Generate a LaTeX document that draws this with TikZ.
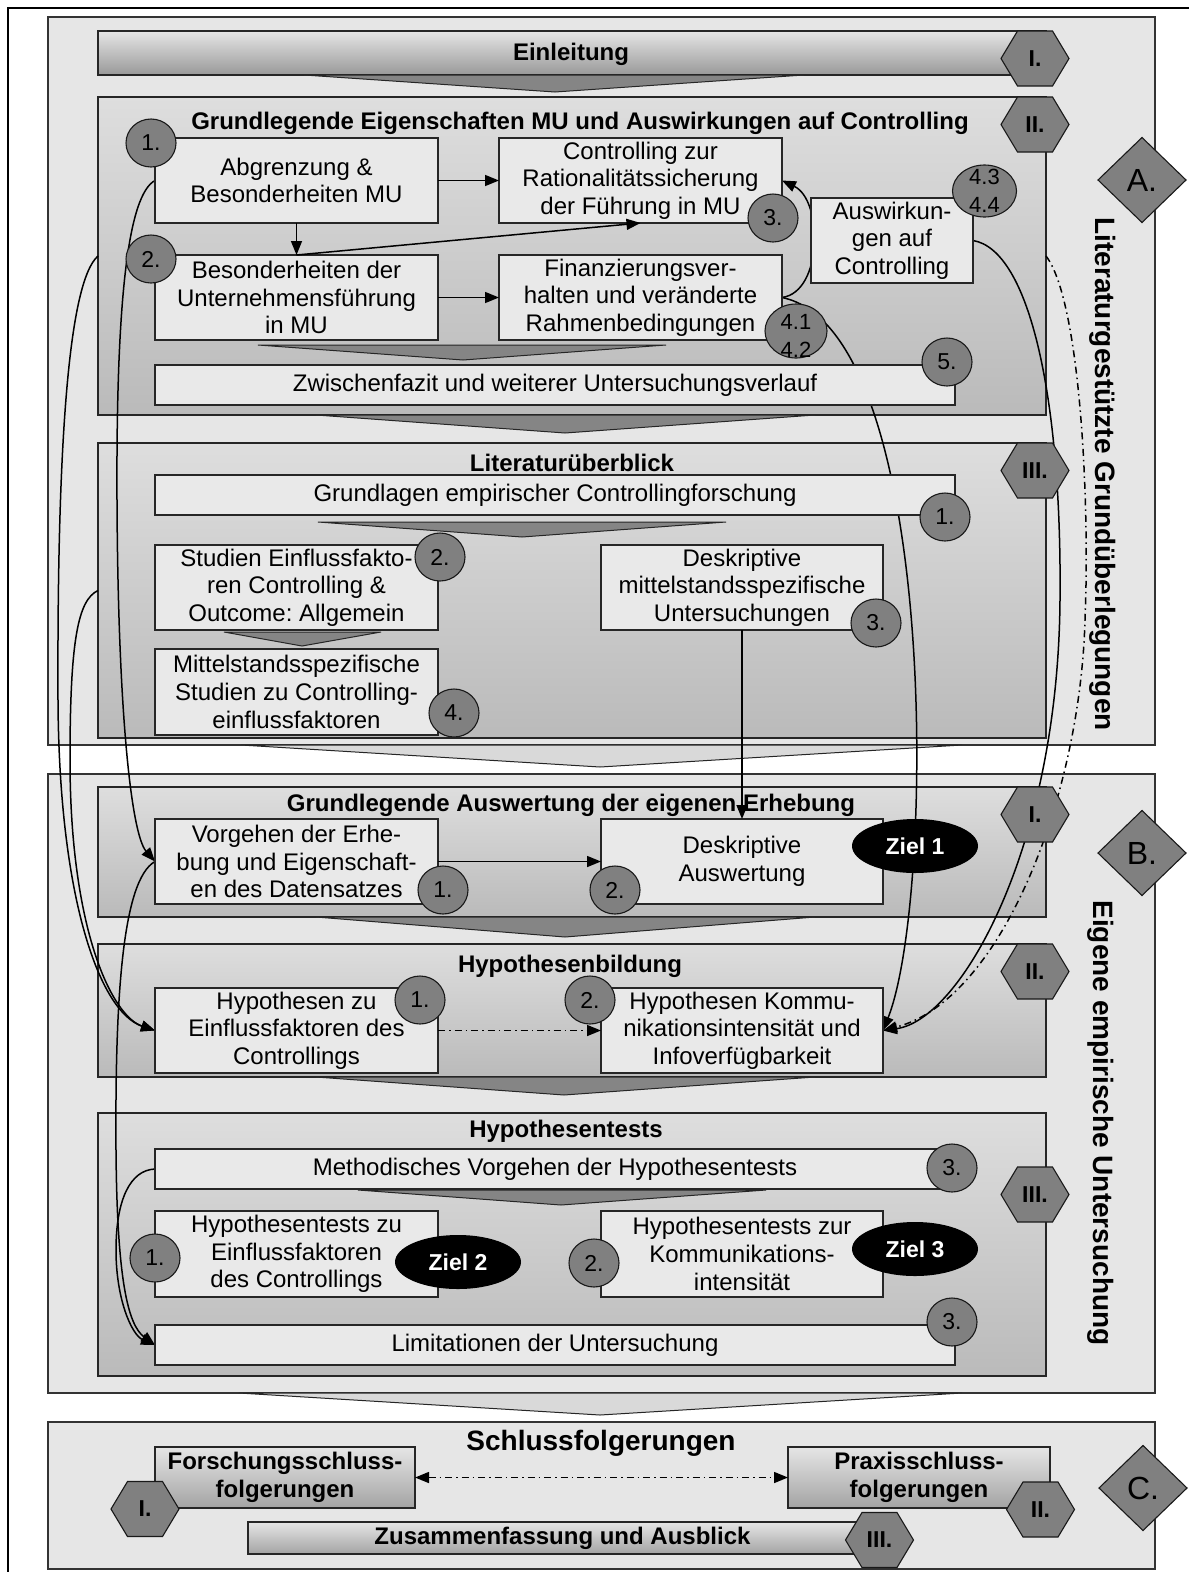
\documentclass[tikz,border=0pt]{standalone}
\usepackage{fontspec}
\setmainfont{Liberation Sans}
\usetikzlibrary{arrows.meta,shapes.geometric}
\pgfdeclarelayer{back}
\pgfdeclarelayer{wires}
\pgfsetlayers{back,wires,main}
\definecolor{secgray}{HTML}{E6E6E6}
\definecolor{boxgray}{HTML}{E9E9E9}
\definecolor{markgray}{HTML}{808080}
\frenchspacing

% hexagonal chapter marker: name, x, y, label
\newcommand\hexat[4]{%
  \filldraw[hexshape] ({#2-34},{#3}) -- ({#2-17.5},{#3-27.5}) -- ({#2+17.5},{#3-27.5})
    -- ({#2+34},{#3}) -- ({#2+17.5},{#3+27.5}) -- ({#2-17.5},{#3+27.5}) -- cycle;
  \node[hextext] (#1) at (#2,#3) {#4};}

\begin{document}
\begin{tikzpicture}[x=1pt,y=-1pt,
  >={Triangle[length=14pt,width=11pt]},
  every node/.style={inner sep=0pt,outer sep=0pt},
  rm/.style={font=\fontsize{24}{27.6}\selectfont},
  bf/.style={font=\fontsize{24}{27.6}\selectfont\bfseries},
  sectionbg/.style={fill=secgray,draw=black!80,line width=1.2pt,anchor=north west,minimum width=1107pt},
  panel/.style={top color=black!13,bottom color=black!27,draw=black!85,line width=1.2pt,anchor=north west,minimum width=948pt},
  box/.style={rm,align=center,fill=boxgray,draw=black!85,line width=1.3pt,anchor=north west,minimum width=283pt,minimum height=85pt},
  widebox/.style={box,minimum width=800pt,minimum height=40pt},
  gbox/.style={bf,align=center,top color=black!10,bottom color=black!36,draw=black!85,line width=1.3pt,anchor=north west},
  num/.style={ellipse,fill=markgray,draw=black!90,line width=1.1pt,minimum width=50pt,minimum height=48pt,font=\fontsize{23}{25}\selectfont},
  numtext/.style={font=\fontsize{22}{28}\selectfont,align=center},
  goal/.style={ellipse,fill=black,text=white,minimum width=126pt,minimum height=54pt,font=\fontsize{23}{25}\selectfont\bfseries},
  part/.style={diamond,fill=markgray,draw=black!90,line width=1.1pt,minimum width=88pt,minimum height=85pt,font=\fontsize{32}{36}\selectfont},
  hexshape/.style={fill=markgray,draw=black!90,line width=1.1pt},
  hextext/.style={font=\fontsize{23}{26}\selectfont\bfseries},
  chev/.style={fill=black!48,draw=black!85,line width=1pt},
  lchev/.style={fill=black!15,draw=black!85,line width=1pt},
  link/.style={line width=1.5pt,->},
  dlink/.style={line width=1.5pt,dash pattern=on 7pt off 4pt on 1.5pt off 4pt},
  vlabel/.style={font=\fontsize{28}{32}\selectfont\bfseries,rotate=-90}]

\useasboundingbox (0,0) rectangle (1189,1572);

\begin{pgfonlayer}{back}
  \fill[white] (0,0) rectangle (1189,1572);
  \draw[line width=2pt] (7.5,1590) -- (7.5,7.5) -- (1200,7.5);
  % the three parts
  \node[sectionbg,minimum height=728pt] (secA) at (48,17) {};
  \node[sectionbg,minimum height=619pt] (secB) at (48,774) {};
  \node[sectionbg,minimum height=147pt] (secC) at (48,1422) {};
  \filldraw[lchev] (241,745) -- (962,745) -- (600,767) -- cycle;
  \filldraw[lchev] (239,1393) -- (962,1393) -- (600,1415) -- cycle;
  % chapter panels
  \node[anchor=north west,minimum width=948pt,minimum height=44pt,top color=black!10,bottom color=black!40,draw=black!85,line width=1.2pt] (einl) at (98,31) {};
  \node[panel,minimum height=318pt] (p2) at (98,97) {};
  \node[panel,minimum height=295pt] (p3) at (98,443) {};
  \node[panel,minimum height=130pt] (b1) at (98,787) {};
  \node[panel,minimum height=133pt] (b2) at (98,944) {};
  \node[panel,minimum height=263pt] (b3) at (98,1113) {};
  % flow chevrons
  \filldraw[chev] (304,75) -- (804,75) -- (555,92) -- cycle;
  \filldraw[chev] (258,345) -- (666,345) -- (463,360) -- cycle;
  \filldraw[chev] (316,415) -- (815,415) -- (565,433) -- cycle;
  \filldraw[chev] (318,522) -- (726,522) -- (522,537) -- cycle;
  \filldraw[chev] (224,632) -- (381,632) -- (302,646) -- cycle;
  \filldraw[chev] (316,917) -- (815,917) -- (565,937) -- cycle;
  \filldraw[chev] (316,1077) -- (815,1077) -- (564,1095) -- cycle;
  \filldraw[chev] (358,1190) -- (766,1190) -- (561,1205) -- cycle;
\end{pgfonlayer}

% content boxes
\node[box] (abgr) at (155,138) {Abgrenzung \&\\Besonderheiten MU};
\node[box] (ctrl) at (499,138) {Controlling zur\\Rationalitätssicherung\\der Führung in MU};
\node[box] (bes) at (155,255) {Besonderheiten der\\Unternehmensführung\\in MU};
\node[box] (fin) at (499,255) {Finanzierungsver-\\halten und veränderte\\Rahmenbedingungen};
\node[box,minimum width=162pt] (ausw) at (811,198) {Auswirkun-\\gen auf\\Controlling};
\node[widebox] (zwi) at (155,365) {Zwischenfazit und weiterer Untersuchungsverlauf};
\node[widebox] (grl) at (155,475) {Grundlagen empirischer Controllingforschung};
\node[box] (stud) at (155,545) {Studien Einflussfakto-\\ren Controlling \&\\Outcome: Allgemein};
\node[box,minimum height=86pt] (mitt) at (155,649) {Mittelstandsspezifische\\Studien zu Controlling-\\einflussfaktoren};
\node[box,minimum width=282pt] (desk) at (601,545) {Deskriptive\\mittelstandsspezifische\\Untersuchungen};
\node[box] (vorg) at (155,819) {Vorgehen der Erhe-\\bung und Eigenschaft-\\en des Datensatzes};
\node[box,minimum width=282pt] (dausw) at (601,819) {Deskriptive\\Auswertung};
\node[box] (hypz) at (155,988) {Hypothesen zu\\Einflussfaktoren des\\Controllings};
\node[box,minimum width=282pt] (hypk) at (601,988) {Hypothesen Kommu-\\nikationsintensität und\\Infoverfügbarkeit};
\node[widebox] (meth) at (155,1149) {Methodisches Vorgehen der Hypothesentests};
\node[box,minimum height=86pt] (htz) at (155,1211) {Hypothesentests zu\\Einflussfaktoren\\des Controllings};
\node[box,minimum width=282pt,minimum height=86pt] (htk) at (601,1211) {Hypothesentests zur\\Kommunikations-\\intensität};
\node[widebox] (lim) at (155,1325) {Limitationen der Untersuchung};
\node[gbox,minimum width=260pt,minimum height=61pt] (forsch) at (155,1447) {Forschungsschluss-\\folgerungen};
\node[gbox,minimum width=262pt,minimum height=61pt] (praxis) at (788,1447) {Praxisschluss-\\folgerungen};
\node[gbox,minimum width=609pt,minimum height=32pt] (zus) at (248,1522) {\hspace*{20pt}Zusammenfassung und Ausblick};

% long connectors run beneath the boxes
\begin{pgfonlayer}{wires}
  \draw[link] (abgr.west) .. controls (128,195) and (116,300) .. (117,500)
    .. controls (118,720) and (132,835) .. (vorg.west);
  \draw[link] (p2.west) .. controls (68,282) and (57,450) .. (58,700)
    .. controls (59,900) and (100,1012) .. (hypz.west);
  \draw[link] (p3.west) .. controls (78,600) and (70,640) .. (70,760)
    .. controls (70,930) and (112,1016) .. (hypz.west);
  \draw[link] (vorg.west) .. controls (122,880) and (115,1000) .. (116,1150)
    .. controls (117,1280) and (128,1325) .. (lim.west);
  \draw[link] (meth.west) .. controls (130,1170) and (116,1200) .. (116,1250)
    .. controls (116,1300) and (132,1335) .. (lim.west);
  \draw[link] (fin.east) .. controls (823,292) and (823,200) .. (ctrl.east);
  \draw[link] (fin.east) .. controls (940,330) and (935,900) .. (hypk.east);
  \draw[link] (ausw.east) .. controls (1030,250) and (1062,400) .. (1060,600)
    .. controls (1058,850) and (960,1020) .. (hypk.east);
  \draw[dlink,->] (p2.east) .. controls (1080,300) and (1090,500) .. (1085,620)
    .. controls (1080,800) and (1000,1000) .. (hypk.east);
\end{pgfonlayer}

% direct connectors
\draw[link] (abgr.east) -- (ctrl.west);
\draw[link] (abgr.south) -- (bes.north);
\draw[link] (bes.north) -- (ctrl.south);
\draw[link] (bes.east) -- (fin.west);
\draw[link] (desk.south) -- (dausw.north);
\draw[link] (vorg.east) -- (dausw.west);
\draw[dlink,->] (hypz.east) -- (hypk.west);
\draw[dlink,<->] (forsch.east) -- (praxis.west);

% headings
\node[bf] (tEinl) at (571,54) {Einleitung};
\node[bf] (tP2) at (580,123) {Grundlegende Eigenschaften MU und Auswirkungen auf Controlling};
\node[bf] (tP3) at (572,463) {Literaturüberblick};
\node[bf] (tB1) at (571,805) {Grundlegende Auswertung der eigenen Erhebung};
\node[bf] (tB2) at (570,966) {Hypothesenbildung};
\node[bf] (tB3) at (566,1131) {Hypothesentests};
\node[font=\fontsize{28}{32}\selectfont\bfseries] (tC) at (601,1443) {Schlussfolgerungen};
\node[vlabel] (tA) at (1103,474) {Literaturgestützte Grundüberlegungen};
\node[vlabel] (tB) at (1101,1123) {Eigene empirische Untersuchung};

% numbering
\node[num] (a1) at (151,143) {1.};
\node[num] (a2) at (151,259) {2.};
\node[num] (a3) at (773,218) {3.};
\node[num,minimum width=62pt,minimum height=54pt] (a41) at (796,331) {};
\node[numtext] (a41t) at (796,336) {4.1\\4.2};
\node[num,minimum width=64pt,minimum height=52pt] (a43) at (984.5,191) {};
\node[numtext] (a43t) at (984.5,191) {4.3\\4.4};
\node[num] (a5) at (947,362) {5.};
\node[num] (l1) at (945,517) {1.};
\node[num] (l2) at (440,557) {2.};
\node[num] (l3) at (876,623) {3.};
\node[num] (l4) at (454,713) {4.};
\node[num] (e1) at (443,890) {1.};
\node[num] (e2) at (615,890) {2.};
\node[num] (h1) at (420,1000) {1.};
\node[num] (h2) at (590,1000) {2.};
\node[num] (t3a) at (952,1168) {3.};
\node[num] (t1) at (155,1258) {1.};
\node[num] (t2) at (594,1263) {2.};
\node[num] (t3b) at (952,1322) {3.};

% goals
\node[goal] (z1) at (915,846) {Ziel 1};
\node[goal] (z2) at (458,1262) {Ziel 2};
\node[goal] (z3) at (915,1249) {Ziel 3};

% chapter markers
\hexat{xAI}{1035}{58.5}{I.}
\hexat{xAII}{1035}{124.5}{II.}
\hexat{xAIII}{1035}{470.5}{III.}
\hexat{xBI}{1035}{814.5}{I.}
\hexat{xBII}{1035}{971.5}{II.}
\hexat{xBIII}{1035}{1194.5}{III.}
\hexat{xCI}{145}{1509}{I.}
\hexat{xCII}{1040.5}{1509.5}{II.}
\hexat{xCIII}{879.5}{1540}{III.}

% part markers
\node[part] (dA) at (1142,180) {A.};
\node[part] (dB) at (1142,853) {B.};
\node[part] (dC) at (1143,1488) {C.};
\end{tikzpicture}
\end{document}
